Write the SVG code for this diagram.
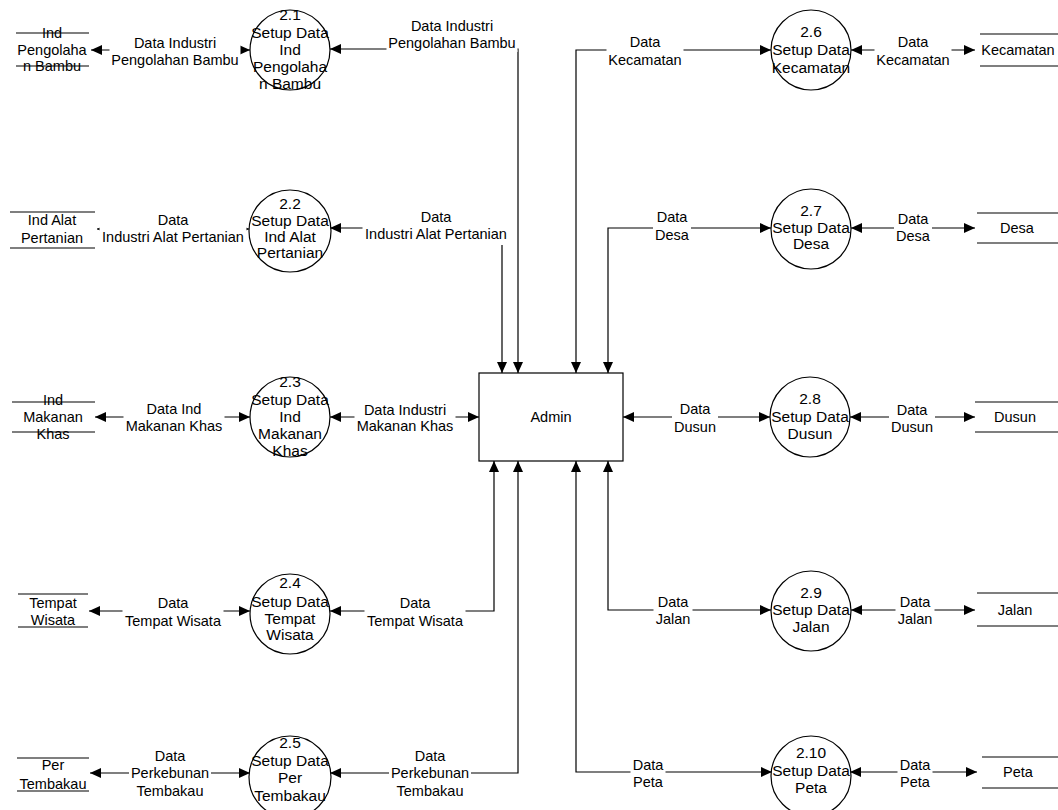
<svg xmlns="http://www.w3.org/2000/svg" width="1058" height="810" viewBox="0 0 1058 810">
<defs>
<style>
.t{font-family:"Liberation Sans",Arial,sans-serif;font-size:14.5px;fill:#000;text-anchor:middle}
.p{font-size:15.5px}
.c{fill:#fff;stroke:#000;stroke-width:1.2}
.s{stroke:#000;stroke-width:1.2;fill:none}
.ln{stroke:#000;stroke-width:1.2;fill:none;marker-start:url(#a);marker-end:url(#a)}
.sm{stroke:#000;stroke-width:1.2;fill:none;marker-start:url(#b);marker-end:url(#b)}
.bg{fill:#fff}
</style>
<marker id="a" viewBox="0 0 11 10" refX="11" refY="5" markerWidth="11" markerHeight="10" markerUnits="userSpaceOnUse" orient="auto-start-reverse"><path d="M0,0 L11,5 L0,10 z" fill="#000"/></marker>
<marker id="b" viewBox="0 0 5 5" refX="5" refY="2.5" markerWidth="5" markerHeight="5" markerUnits="userSpaceOnUse" orient="auto-start-reverse"><path d="M0,0 L5,2.5 L0,5 z" fill="#000"/></marker>
</defs>
<rect width="1058" height="810" fill="#fff"/>
<g id="connectors">
<path class="ln" d="M91,50 H250"/>
<path class="sm" d="M97,229 H249"/>
<path class="ln" d="M95,417 H250"/>
<path class="ln" d="M89,611 H250"/>
<path class="ln" d="M90,773 H250"/>
<path class="ln" d="M330,49 H518 V373"/>
<path class="ln" d="M330,228 H502 V373"/>
<path class="ln" d="M330,417 H479"/>
<path class="ln" d="M330,611 H494 V461"/>
<path class="ln" d="M330,773 H518 V461"/>
<path class="ln" d="M771,50 H576 V373"/>
<path class="ln" d="M771,228 H608 V373"/>
<path class="ln" d="M770,417 H623"/>
<path class="ln" d="M771,610 H608 V461"/>
<path class="ln" d="M772,772 H576 V461"/>
<path class="ln" d="M851,50 H975"/>
<path class="ln" d="M851,228 H975"/>
<path class="ln" d="M850,417 H975"/>
<path class="ln" d="M851,610 H975"/>
<path class="ln" d="M850,772 H977"/>
</g>
<g id="labels">
<rect class="bg" x="109.5" y="34" width="131" height="35"/><text class="t" x="175" y="48">Data Industri</text><text class="t" x="175" y="65">Pengolahan Bambu</text>
<rect class="bg" x="99.5" y="211" width="147" height="35"/><text class="t" x="173" y="225">Data</text><text class="t" x="173" y="242">Industri Alat Pertanian</text>
<rect class="bg" x="123.5" y="400" width="101" height="35"/><text class="t" x="174" y="414">Data Ind</text><text class="t" x="174" y="431">Makanan Khas</text>
<rect class="bg" x="122.5" y="594" width="101" height="36"/><text class="t" x="173" y="608">Data</text><text class="t" x="173" y="626">Tempat Wisata</text>
<rect class="bg" x="129" y="747" width="82" height="53"/><text class="t" x="170" y="761">Data</text><text class="t" x="170" y="778">Perkebunan</text><text class="t" x="170" y="796">Tembakau</text>
<rect class="bg" x="386.5" y="17" width="131" height="35"/><text class="t" x="452" y="31">Data Industri</text><text class="t" x="452" y="48">Pengolahan Bambu</text>
<rect class="bg" x="362.5" y="208" width="147" height="37"/><text class="t" x="436" y="222">Data</text><text class="t" x="436" y="239">Industri Alat Pertanian</text>
<rect class="bg" x="354.5" y="401" width="101" height="34"/><text class="t" x="405" y="415">Data Industri</text><text class="t" x="405" y="431">Makanan Khas</text>
<rect class="bg" x="364.5" y="594" width="101" height="36"/><text class="t" x="415" y="608">Data</text><text class="t" x="415" y="626">Tempat Wisata</text>
<rect class="bg" x="389" y="747" width="82" height="53"/><text class="t" x="430" y="761">Data</text><text class="t" x="430" y="778">Perkebunan</text><text class="t" x="430" y="796">Tembakau</text>
<rect class="bg" x="606.5" y="33" width="77" height="36"/><text class="t" x="645" y="47">Data</text><text class="t" x="645" y="65">Kecamatan</text>
<rect class="bg" x="653" y="208" width="38" height="36"/><text class="t" x="672" y="222">Data</text><text class="t" x="672" y="240">Desa</text>
<rect class="bg" x="672" y="400" width="46" height="36"/><text class="t" x="695" y="414">Data</text><text class="t" x="695" y="432">Dusun</text>
<rect class="bg" x="653.5" y="593" width="39" height="35"/><text class="t" x="673" y="607">Data</text><text class="t" x="673" y="624">Jalan</text>
<rect class="bg" x="630.5" y="756" width="35" height="35"/><text class="t" x="648" y="770">Data</text><text class="t" x="648" y="787">Peta</text>
<rect class="bg" x="874.5" y="33" width="77" height="36"/><text class="t" x="913" y="47">Data</text><text class="t" x="913" y="65">Kecamatan</text>
<rect class="bg" x="894" y="210" width="38" height="35"/><text class="t" x="913" y="224">Data</text><text class="t" x="913" y="241">Desa</text>
<rect class="bg" x="889" y="401" width="46" height="35"/><text class="t" x="912" y="415">Data</text><text class="t" x="912" y="432">Dusun</text>
<rect class="bg" x="895.5" y="593" width="39" height="35"/><text class="t" x="915" y="607">Data</text><text class="t" x="915" y="624">Jalan</text>
<rect class="bg" x="897.5" y="756" width="35" height="35"/><text class="t" x="915" y="770">Data</text><text class="t" x="915" y="787">Peta</text>
</g>
<g id="admin"><rect class="c" x="479" y="373" width="144" height="88"/><text class="t" x="551" y="422">Admin</text></g>
<g id="p21"><circle class="c" cx="290" cy="50" r="40"/><text class="t p" x="290" y="20">2.1</text><text class="t p" x="290" y="38">Setup Data</text><text class="t p" x="290" y="55">Ind</text><text class="t p" x="290" y="72">Pengolaha</text><text class="t p" x="290" y="89">n Bambu</text></g>
<g id="p22"><circle class="c" cx="290" cy="231" r="41"/><text class="t p" x="290" y="209">2.2</text><text class="t p" x="290" y="226">Setup Data</text><text class="t p" x="290" y="242">Ind Alat</text><text class="t p" x="290" y="258">Pertanian</text></g>
<g id="p23"><circle class="c" cx="290" cy="417" r="40"/><text class="t p" x="290" y="387">2.3</text><text class="t p" x="290" y="405">Setup Data</text><text class="t p" x="290" y="422">Ind</text><text class="t p" x="290" y="439">Makanan</text><text class="t p" x="290" y="456">Khas</text></g>
<g id="p24"><circle class="c" cx="290" cy="614" r="40"/><text class="t p" x="290" y="588">2.4</text><text class="t p" x="290" y="607">Setup Data</text><text class="t p" x="290" y="624">Tempat</text><text class="t p" x="290" y="640">Wisata</text></g>
<g id="p25"><circle class="c" cx="290" cy="777" r="41"/><text class="t p" x="290" y="748">2.5</text><text class="t p" x="290" y="766">Setup Data</text><text class="t p" x="290" y="783">Per</text><text class="t p" x="290" y="801">Tembakau</text></g>
<g id="p26"><circle class="c" cx="811" cy="50" r="40"/><text class="t p" x="811" y="37">2.6</text><text class="t p" x="811" y="55">Setup Data</text><text class="t p" x="811" y="73">Kecamatan</text></g>
<g id="p27"><circle class="c" cx="811" cy="229" r="40"/><text class="t p" x="811" y="216">2.7</text><text class="t p" x="811" y="233">Setup Data</text><text class="t p" x="811" y="249">Desa</text></g>
<g id="p28"><circle class="c" cx="810" cy="417" r="40"/><text class="t p" x="810" y="404">2.8</text><text class="t p" x="810" y="422">Setup Data</text><text class="t p" x="810" y="439">Dusun</text></g>
<g id="p29"><circle class="c" cx="811" cy="611" r="40"/><text class="t p" x="811" y="598">2.9</text><text class="t p" x="811" y="615">Setup Data</text><text class="t p" x="811" y="632">Jalan</text></g>
<g id="p210"><circle class="c" cx="811" cy="776" r="40"/><text class="t p" x="811" y="758">2.10</text><text class="t p" x="811" y="776">Setup Data</text><text class="t p" x="811" y="793">Peta</text></g>
<g id="s-pengolahan"><path class="s" d="M16,33 H89 M16,66 H89"/><text class="t" x="52" y="38">Ind</text><text class="t" x="52" y="55">Pengolaha</text><text class="t" x="52" y="71">n Bambu</text></g>
<g id="s-alat"><path class="s" d="M10,212 H95 M10,248 H95"/><text class="t" x="52" y="225">Ind Alat</text><text class="t" x="52" y="243">Pertanian</text></g>
<g id="s-makanan"><path class="s" d="M12,402 H95 M12,432 H95"/><text class="t" x="53" y="405">Ind</text><text class="t" x="53" y="422">Makanan</text><text class="t" x="53" y="439">Khas</text></g>
<g id="s-wisata"><path class="s" d="M18,594 H88 M18,627 H88"/><text class="t" x="53" y="608">Tempat</text><text class="t" x="53" y="625">Wisata</text></g>
<g id="s-tembakau"><path class="s" d="M17,758 H89 M17,791 H89"/><text class="t" x="53" y="770">Per</text><text class="t" x="53" y="789">Tembakau</text></g>
<g id="s-kecamatan"><path class="s" d="M980,34 H1058 M980,66 H1058"/><text class="t" x="1018" y="55">Kecamatan</text></g>
<g id="s-desa"><path class="s" d="M977,213 H1058 M977,243 H1058"/><text class="t" x="1017" y="233">Desa</text></g>
<g id="s-dusun"><path class="s" d="M975,402 H1058 M975,432 H1058"/><text class="t" x="1015" y="422">Dusun</text></g>
<g id="s-jalan"><path class="s" d="M977,593 H1058 M977,626 H1058"/><text class="t" x="1015" y="615">Jalan</text></g>
<g id="s-peta"><path class="s" d="M982,757 H1058 M982,788 H1058"/><text class="t" x="1018" y="777">Peta</text></g>
</svg>
